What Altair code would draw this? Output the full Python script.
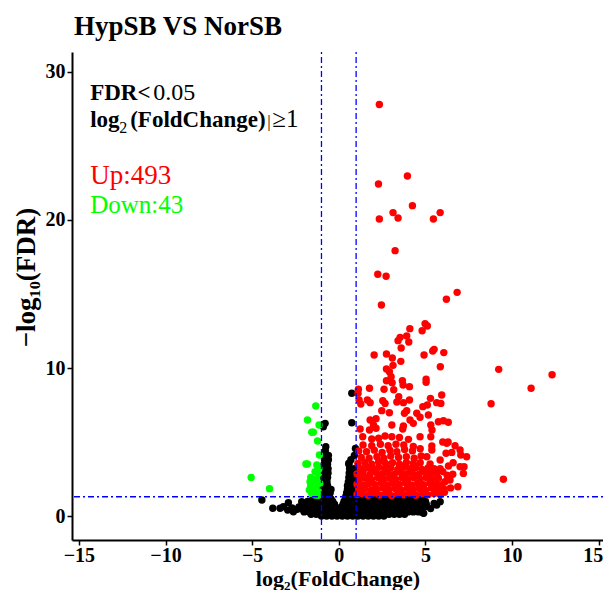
import altair as alt
import pandas as pd

# ---- data (log2FC, -log10 FDR) ----
up_points = [
    (2.34, 27.8), (3.96, 22.97), (2.29, 22.43), (4.25, 20.97), (3.13, 20.5), (5.85, 20.5),
    (2.34, 20.07), (3.42, 20.14), (5.46, 20.07), (3.25, 17.93), (2.25, 16.33), (2.73, 16.2),
    (6.83, 15.11), (6.21, 14.64), (2.46, 14.26), (4.98, 12.99), (5.11, 12.84), (4.1, 12.66),
    (4.81, 12.52), (3.92, 12.16), (3.54, 12.07), (3.42, 11.85), (4.04, 11.76), (3.6, 11.35),
    (5.5, 11.26), (2.04, 10.88), (2.75, 10.95), (3.09, 10.68), (4.92, 10.88), (5.42, 11.15),
    (6.06, 11.04), (3.58, 10.45), (3.13, 10.18), (5.86, 10.09), (2.75, 9.93), (2.92, 9.75),
    (3.02, 9.41), (2.75, 9.14), (3.08, 9.01), (3.67, 9.14), (5.04, 9.24), (5.04, 9.03),
    (3.71, 8.85), (4.08, 8.74), (1.77, 8.63), (2.61, 8.56), (3.17, 8.53), (1.13, 8.56),
    (1.11, 8.29), (5.94, 8.18), (3.46, 8.06), (5.29, 7.95), (1.65, 7.84), (1.81, 7.66),
    (2.54, 7.79), (2.67, 7.61), (3.35, 7.7), (3.73, 7.66), (4.08, 7.84), (5.65, 7.66),
    (5.89, 7.61), (1.27, 7.57), (4.85, 7.39), (5.11, 7.5), (3.92, 7.12), (2.48, 7.12),
    (2.92, 6.98), (3.79, 6.94), (4.5, 6.94), (4.69, 6.67), (5.17, 6.82), (2.15, 6.58),
    (1.81, 6.49), (4.11, 6.49), (5.75, 6.37), (6.04, 6.44), (6.32, 6.33), (4.3, 6.26),
    (2.0, 6.15), (3.06, 6.15), (3.73, 6.08), (5.31, 6.15), (1.23, 5.88), (1.77, 5.81),
    (2.15, 5.93), (3.69, 5.88), (5.38, 5.81), (1.17, 7.84),
    (9.23, 9.91), (12.31, 9.55), (11.1, 8.63), (8.79, 7.59), (9.5, 2.48),
    (1.38, 5.36), (2.67, 5.41), (3.06, 5.36), (4.02, 5.18), (4.69, 5.36), (5.31, 5.36),
    (1.9, 5.2), (2.3, 5.25), (3.5, 5.3),
    (1.4, 4.8), (1.9, 4.75), (2.4, 4.85), (2.85, 4.75), (3.3, 4.85), (3.75, 4.8), (4.3, 4.7),
    (5.37, 4.73), (6.71, 4.75), (6.0, 5.0), (6.31, 5.0), (6.23, 4.91),
    (1.15, 4.4), (1.6, 4.35), (2.05, 4.45), (2.5, 4.3), (2.95, 4.45), (3.35, 4.35), (3.8, 4.5),
    (4.25, 4.4), (5.37, 4.46), (7.0, 4.46), (4.7, 4.55),
    (1.3, 3.95), (1.75, 3.9), (2.2, 4.0), (2.6, 3.9), (3.0, 4.05), (3.45, 3.95), (3.9, 4.0),
    (4.35, 3.9), (4.75, 4.05), (5.08, 4.01), (6.19, 4.24), (6.52, 4.3), (7.04, 4.12), (7.38, 4.01),
    (1.1, 3.55), (1.5, 3.6), (1.9, 3.5), (2.3, 3.65), (2.7, 3.55), (3.1, 3.6), (3.5, 3.5),
    (3.9, 3.62), (4.3, 3.55), (4.7, 3.6), (5.27, 3.51), (5.85, 3.78), (6.6, 3.6),
    (1.25, 3.2), (1.6, 3.25), (1.95, 3.15), (2.3, 3.3), (2.65, 3.2), (3.0, 3.25), (3.4, 3.15),
    (3.75, 3.3), (4.1, 3.2), (4.45, 3.28), (4.8, 3.15), (5.15, 3.25), (5.5, 3.2), (6.33, 3.38),
    (7.23, 3.33), (7.0, 3.33), (5.85, 3.2),
    (1.05, 2.85), (1.4, 2.9), (1.8, 2.8), (2.15, 2.95), (2.5, 2.85), (2.85, 2.9), (3.2, 2.8),
    (3.55, 2.95), (3.9, 2.85), (4.25, 2.9), (4.6, 2.8), (4.95, 2.95), (5.3, 2.85), (5.65, 2.9),
    (6.58, 2.82), (7.19, 2.88), (6.0, 3.0), (6.25, 2.75),
    (1.2, 2.5), (1.55, 2.55), (1.9, 2.45), (2.25, 2.6), (2.6, 2.5), (2.95, 2.55), (3.3, 2.45),
    (3.65, 2.6), (4.0, 2.5), (4.35, 2.58), (4.7, 2.48), (5.05, 2.6), (5.4, 2.5), (5.75, 2.55),
    (6.3, 2.6), (6.42, 2.43),
    (1.05, 2.15), (1.4, 2.1), (1.75, 2.2), (2.1, 2.12), (2.45, 2.25), (2.8, 2.1), (3.15, 2.2),
    (3.5, 2.14), (3.85, 2.25), (4.2, 2.1), (4.55, 2.2), (4.9, 2.12), (5.25, 2.22), (5.6, 2.15),
    (6.13, 2.32), (5.9, 2.1),
    (1.15, 1.8), (1.5, 1.85), (1.85, 1.75), (2.2, 1.82), (2.55, 1.9), (2.9, 1.78), (3.25, 1.86),
    (3.6, 1.76), (3.95, 1.88), (4.3, 1.8), (4.65, 1.85), (5.0, 1.75), (5.35, 1.9), (5.7, 1.8),
    (6.05, 1.85), (6.45, 1.9), (6.87, 1.98),
    (1.05, 1.45), (1.35, 1.52), (1.7, 1.4), (2.0, 1.55), (2.35, 1.42), (2.7, 1.5), (3.05, 1.38),
    (3.4, 1.5), (3.75, 1.44), (4.1, 1.55), (4.45, 1.4), (4.8, 1.5), (5.15, 1.43), (5.5, 1.52),
    (5.85, 1.45), (6.1, 1.6),
]

down_points = [
    (-1.33, 7.43), (-1.81, 6.49), (-1.14, 6.15), (-1.56, 5.66), (-1.47, 5.66), (-1.23, 5.07),
    (-1.12, 4.12), (-1.9, 3.51), (-1.81, 3.51), (-1.27, 3.45), (-1.37, 3.0), (-1.18, 2.88),
    (-1.62, 2.61), (-5.06, 2.61), (-1.66, 2.32), (-1.56, 2.21), (-1.27, 2.43), (-4.0, 1.85),
    (-1.62, 1.98), (-1.43, 1.98), (-1.27, 2.09), (-1.56, 1.53), (-1.37, 1.42), (-1.18, 1.64),
    (-1.7, 1.76), (-1.2, 1.4), (-1.45, 1.75), (-1.1, 2.2), (-1.5, 2.5), (-1.15, 3.2), (-1.6, 2.0),
]

# not-significant genes: rows of the dense cloud (y: list of x)
ns_rows = {
    0.0: [-1.0, -0.7, -0.4, -0.1, 0.2, 0.5, 0.8, 1.1, 1.4, 1.7, 2.0, 2.3, 2.6],
    0.12: [-1.6, -1.3, -1.0, -0.7, -0.4, -0.1, 0.2, 0.5, 0.8, 1.1, 1.4, 1.7, 2.0, 2.3, 2.6,
           2.9, 3.2, 3.5, 3.8],
    0.28: [-2.0, -1.7, -1.4, -1.1, -0.8, -0.5, -0.2, 0.1, 0.4, 0.7, 1.0, 1.3, 1.6, 1.9, 2.2,
           2.5, 2.8, 3.1, 3.4, 3.7, 4.0, 4.3, 4.6],
    0.45: [-2.4, -2.1, -1.8, -1.5, -1.2, -0.9, -0.6, -0.3, 0.0, 0.3, 0.6, 0.9, 1.2, 1.5, 1.8,
           2.1, 2.4, 2.7, 3.0, 3.3, 3.6, 3.9, 4.2, 4.5, 4.8],
    0.62: [-2.3, -2.0, -1.7, -1.4, -1.1, -0.8, -0.5, -0.2, 0.15, 0.4, 0.7, 1.0, 1.3, 1.6, 1.9,
           2.2, 2.5, 2.8, 3.1, 3.4, 3.7, 4.0, 4.3, 4.6, 4.95],
    0.8: [-2.0, -1.7, -1.4, -1.1, -0.8, -0.5, -0.25, 0.25, 0.5, 0.8, 1.1, 1.4, 1.7, 2.0, 2.3,
          2.6, 2.9, 3.2, 3.5, 3.8, 4.1, 4.4, 4.7, 5.05],
    0.98: [-1.8, -1.5, -1.2, -0.9, -0.6, -0.35, 0.3, 0.55, 0.85, 1.15, 1.45, 1.75, 2.05, 2.35,
           2.65, 2.95, 3.25, 3.55, 3.85, 4.15, 4.45, 4.75, 5.0],
    1.15: [-1.5, -1.2, -0.9, -0.6, -0.45, 0.38, 0.6, 0.9, 1.2, 1.5, 1.8, 2.1, 2.4, 2.7, 3.0,
           3.3, 3.6, 3.9, 4.2, 4.5, 4.85],
    1.3: [-1.05, -0.8, -0.55, 0.4, 0.65, 0.9],
    1.55: [-1.0, -0.75, -0.5, 0.45, 0.7, 0.95],
    1.8: [-0.95, -0.7, -0.45, 0.5, 0.75, 0.95],
    2.05: [-0.9, -0.65, 0.5, 0.78, 0.96],
    2.3: [-0.92, -0.68, 0.55, 0.8],
    2.6: [-0.9, -0.65, 0.58, 0.85],
    2.9: [-0.88, -0.62, 0.6, 0.88],
    3.2: [-0.85, -0.62, 0.62, 0.88],
    3.5: [-0.85, -0.65, 0.58],
    3.8: [-0.82, -0.6, 0.7],
    4.1: [-0.8, -0.6, 0.9],
    4.4: [-0.78],
    4.68: [-0.75],
}
ns_extra = [
    (-4.44, 1.08), (-3.81, 0.52), (-3.39, 0.52), (-3.2, 0.63), (-2.91, 0.9), (-2.62, 0.29),
    (-2.14, 0.97), (-2.7, 0.55), (-2.95, 0.4), (4.85, 0.22), (4.69, 0.74), (5.65, 0.74),
    (5.85, 0.97), (4.88, 0.86), (4.9, 0.18), (5.3, 0.5), (5.5, 0.85), (0.75, 8.29),
    (0.75, 6.3), (-0.79, 6.26), (-0.89, 6.03), (0.96, 4.57), (0.58, 3.56),
]

x_ticks = [-15, -10, -5, 0, 5, 10, 15]
y_ticks = [0, 10, 20, 30]
fc_cut = [-1, 1]
fdr_cut = [1.301]

rows = []
for yv, xl in ns_rows.items():
    for xv in xl:
        rows.append({"fc": xv, "fdr": yv, "grp": "ns"})
for xv, yv in ns_extra:
    rows.append({"fc": xv, "fdr": yv, "grp": "ns"})
for xv, yv in up_points:
    rows.append({"fc": xv, "fdr": yv, "grp": "up"})
for xv, yv in down_points:
    rows.append({"fc": xv, "fdr": yv, "grp": "down"})
df = pd.DataFrame(rows)

FONT = "Liberation Serif"
xs = alt.Scale(domain=[-15.4, 15.25], nice=False, zero=False)
ys = alt.Scale(domain=[-1.62, 31.35], nice=False, zero=False)

points = alt.Chart(df).mark_circle(size=55, opacity=1).encode(
    x=alt.X("fc:Q", scale=xs,
            axis=alt.Axis(values=x_ticks, title="log₂(FoldChange)", format="d",
                          labelFlush=5, labelFlushOffset=4, labelPadding=0,
                          titlePadding=3)),
    y=alt.Y("fdr:Q", scale=ys,
            axis=alt.Axis(values=y_ticks, title="−log₁₀(FDR)", format="d", titleY=225)),
    color=alt.Color("grp:N", scale=alt.Scale(domain=["ns", "up", "down"],
                                             range=["#000000", "#FF0000", "#00FF00"]),
                    legend=None),
)

dash = [2, 3, 6, 3]
vrule = alt.Chart(pd.DataFrame({"fc": fc_cut})).mark_rule(
    color="#0000FF", strokeDash=dash, strokeWidth=1.3).encode(x=alt.X("fc:Q", scale=xs))
hrule = alt.Chart(pd.DataFrame({"fdr": fdr_cut})).mark_rule(
    color="#0000FF", strokeDash=dash, strokeWidth=1.3).encode(y=alt.Y("fdr:Q", scale=ys))

ann_x = -14.35
def label(text, y, bold, color="black", size=23, dx=0):
    return alt.Chart(pd.DataFrame({"fc": [ann_x], "fdr": [y], "t": [text]})).mark_text(
        align="left", baseline="alphabetic", font=FONT, fontSize=size,
        fontWeight="bold" if bold else "normal", color=color, dx=dx
    ).encode(x=alt.X("fc:Q", scale=xs), y=alt.Y("fdr:Q", scale=ys), text="t:N")

texts = [
    label("FDR<", 28.1, True),
    label("0.05", 28.1, False, size=24, dx=63),
    label("log", 26.25, True),
    label("2", 25.85, False, size=16, dx=29),
    label("(FoldChange)", 26.25, True, dx=40),
    label("|", 26.25, False, size=17, dx=177),
    label("≥1", 26.25, False, size=25, dx=182),
    label("Up:493", 22.4, False, color="#FF0000", size=27),
    label("Down:43", 20.5, False, color="#00FF00", size=25),
]

title = alt.Chart(pd.DataFrame({"t": ["HypSB VS NorSB"]})).mark_text(
    align="left", baseline="alphabetic", font=FONT, fontSize=27, fontWeight="bold",
    color="black"
).encode(x=alt.value(2), y=alt.value(-17), text="t:N")

chart = alt.layer(points, vrule, hrule, *texts, title).properties(
    width=531, height=488,
    autosize=alt.AutoSizeParams(type="none"),
    padding={"left": 64, "top": 44, "right": 0, "bottom": 50},
).configure_view(stroke=None).configure_axis(
    grid=False, labelFont=FONT, labelFontWeight="bold", labelFontSize=20, labelColor="black",
    titleFont=FONT, titleFontWeight="bold", titleColor="black",
    domainColor="black", domainWidth=2, tickColor="black", tickWidth=1.5, tickSize=5,
    labelPadding=2,
).configure_axisX(titleFontSize=22).configure_axisY(
    titlePadding=5, titleFontSize=27)

chart.save("out.html", embed_options={"renderer": "svg", "actions": False})
